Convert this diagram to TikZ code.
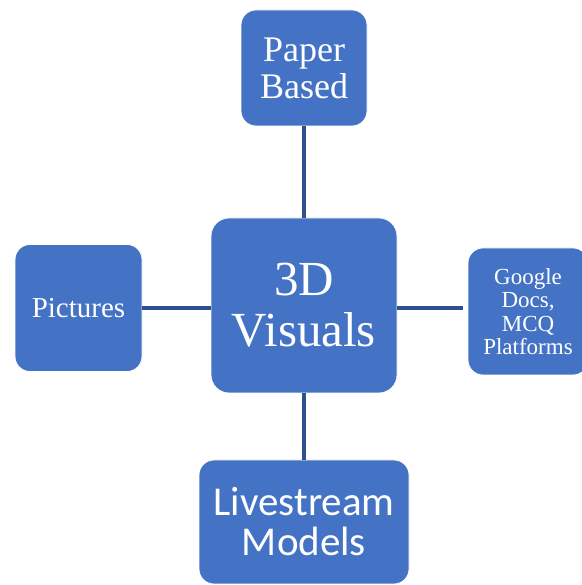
\documentclass[tikz,border=0pt]{standalone}
\usepackage{fontspec}
\setmainfont{Liberation Serif}
\newfontfamily\calib{Carlito}
\usepackage{tikz}
\definecolor{boxblue}{HTML}{4472C4}
\definecolor{linkblue}{HTML}{2F4F8F}

\begin{document}
\begin{tikzpicture}[x=1pt,y=1pt,
	box/.style={fill=boxblue, draw=white, line width=0.8pt, rounded corners=15pt,
		text=white, align=center, inner sep=0pt},
	link/.style={linkblue, line width=3.2pt}]

	\useasboundingbox (0,0) rectangle (581,585);

	\node[box, minimum width=186, minimum height=175, rounded corners=18pt,
		font=\fontsize{49}{51}\selectfont] (visuals) at (304,279.5) {3D\\Visuals};
	\node[box, minimum width=126, minimum height=116,
		font=\fontsize{36}{37}\selectfont] (paper) at (304,517) {Paper\\Based};
	\node[box, minimum width=127, minimum height=127,
		font=\fontsize{29}{30}\selectfont] (pictures) at (78.5,277) {Pictures};
	\node[box, minimum width=120, minimum height=127,
		font=\fontsize{23}{23.5}\selectfont] (google) at (528,273.5) {Google\\Docs,\\MCQ\\Platforms};
	\node[box, minimum width=210, minimum height=124,
		font=\calib\fontsize{41}{40}\selectfont] (live) at (304,63) {Livestream\\Models};

	% spokes
	\draw[link] (visuals.north) -- (paper.south);
	\draw[link] (pictures.east) -- (pictures.east -| visuals.west);
	\draw[link, shorten >=5pt] (visuals.east |- pictures.east) -- (google.west |- pictures.east);
	\draw[link] (visuals.south) -- (live.north);

\end{tikzpicture}
\end{document}
